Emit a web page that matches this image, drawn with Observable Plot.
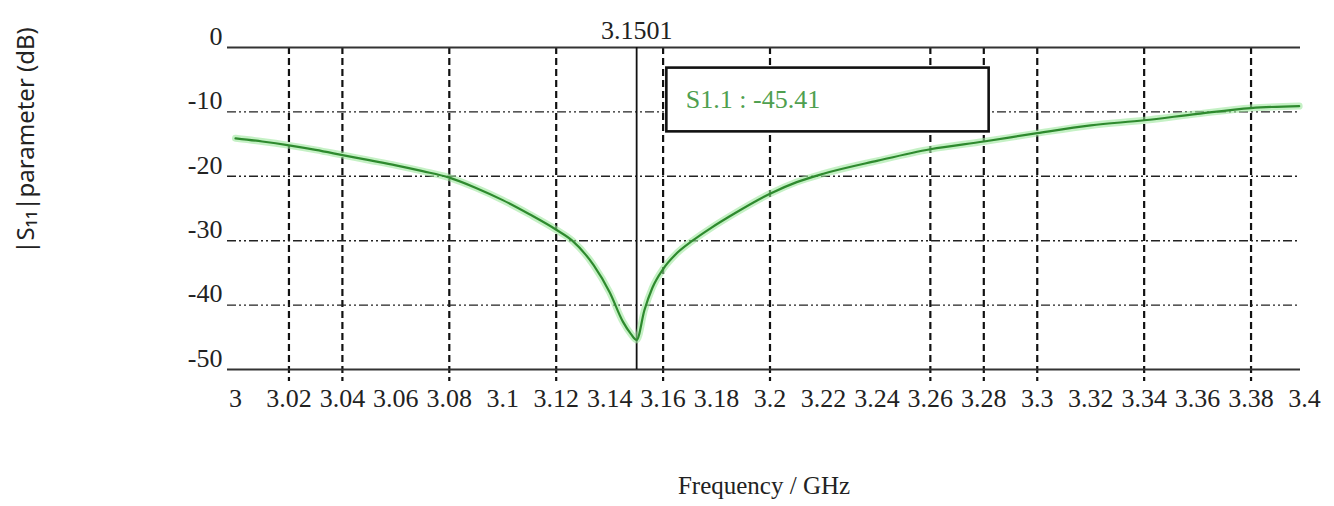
<!DOCTYPE html>
<html>
<head>
<meta charset="utf-8">
<script src="https://cdn.jsdelivr.net/npm/d3@7"></script>
<script src="https://cdn.jsdelivr.net/npm/@observablehq/plot@0.6"></script>
<style>
  html, body { margin: 0; padding: 0; background: #fff; }
  #chart { width: 1334px; height: 506px; }
</style>
</head>
<body>
<div id="chart"></div>
<script>
// Frequency (GHz) and |S11| (dB)
const freq = [3.000, 3.010, 3.020, 3.030, 3.040, 3.050, 3.060, 3.070, 3.080, 3.090,
              3.100, 3.110, 3.120, 3.126, 3.134, 3.140, 3.145, 3.148, 3.1501, 3.153,
              3.156, 3.160, 3.165, 3.171, 3.178, 3.187, 3.200, 3.210, 3.220, 3.240,
              3.260, 3.280, 3.300, 3.320, 3.340, 3.360, 3.380, 3.398];
const s11 = [-14.1, -14.6, -15.2, -15.9, -16.7, -17.5, -18.3, -19.2, -20.2, -21.8,
             -23.7, -25.9, -28.3, -30.0, -33.8, -38.0, -42.6, -44.5, -45.41, -40.8,
             -37.3, -34.4, -32.0, -30.0, -28.0, -25.7, -22.7, -20.9, -19.6, -17.6,
             -15.8, -14.6, -13.3, -12.1, -11.3, -10.3, -9.4, -9.1];

// Axis ticks
const xTickValues = [3, 3.02, 3.04, 3.06, 3.08, 3.1, 3.12, 3.14, 3.16, 3.18, 3.2,
                     3.22, 3.24, 3.26, 3.28, 3.3, 3.32, 3.34, 3.36, 3.38, 3.4];
const xTickLabels = ["3", "3.02", "3.04", "3.06", "3.08", "3.1", "3.12", "3.14", "3.16", "3.18", "3.2",
                     "3.22", "3.24", "3.26", "3.28", "3.3", "3.32", "3.34", "3.36", "3.38", "3.4"];
const yTickValues = [0, -10, -20, -30, -40, -50];
const yTickLabels = ["0", "-10", "-20", "-30", "-40", "-50"];

// Grid lines as they appear in the reference
const gridX = [3.02, 3.04, 3.08, 3.12, 3.16, 3.2, 3.26, 3.28, 3.3, 3.34, 3.38];
const gridY = [-10, -20, -30, -40];
const frameY = [0, -50];

// Marker annotation
const markerFreq = [3.1501];
const markerLabel = ["3.1501"];
const markerText = ["S1.1 : -45.41"];
const boxX = [3.1614, 3.282];
const boxY = [-3.2, -13.1];

const xTitle = "Frequency / GHz";
const yTitle = "|S\u2081\u2081|parameter (dB)";

const data = freq.map((f, i) => ({f, s: s11[i]}));

const chart = Plot.plot({
  width: 1334,
  height: 506,
  marginLeft: 227,
  marginRight: 34,
  marginTop: 47,
  marginBottom: 137,
  x: {domain: [3, 3.4], range: [235, 1304]},
  y: {domain: [-50, 0]},
  style: {fontFamily: "Liberation Serif", background: "white", color: "#222"},
  marks: [
    Plot.ruleX(gridX, {stroke: "#111", strokeWidth: 2.2, strokeDasharray: "7,4", insetBottom: -12}),
    Plot.ruleY(gridY, {stroke: "#222", strokeWidth: 1.4, strokeDasharray: "9,3,2,3,2,3"}),
    Plot.ruleY(frameY, {stroke: "#333", strokeWidth: 2.2}),
    Plot.ruleX(markerFreq, {stroke: "#111", strokeWidth: 1.8}),
    Plot.line(data, {x: "f", y: "s", curve: "monotone-x", stroke: "#9fe89f", strokeWidth: 7, strokeOpacity: 0.6}),
    Plot.line(data, {x: "f", y: "s", curve: "monotone-x", stroke: "#2e8a2e", strokeWidth: 2.2}),
    Plot.rect([0], {x1: () => boxX[0], x2: () => boxX[1], y1: () => boxY[0], y2: () => boxY[1],
                    fill: "white", stroke: "#111", strokeWidth: 2.6}),
    Plot.text(markerText, {x: () => boxX[0], y: () => (boxY[0] + boxY[1]) / 2, dx: 19,
                           textAnchor: "start", fill: "#4f9f4f", fontSize: 26}),
    Plot.text(markerFreq, {x: d => d, text: (d, i) => markerLabel[i], frameAnchor: "top",
                           lineAnchor: "middle", dy: -17, fontSize: 26, fill: "#222"}),
    Plot.axisX(xTickValues, {tickSize: 0, tickPadding: 19, fontSize: 26, label: null,
                             tickFormat: d => xTickLabels[xTickValues.indexOf(d)]}),
    Plot.axisY(yTickValues, {tickSize: 0, tickPadding: 5, dy: -11, fontSize: 26, label: null,
                             tickFormat: d => yTickLabels[yTickValues.indexOf(d)]}),
    Plot.text([xTitle], {frameAnchor: "bottom", lineAnchor: "middle", dy: 116, fontSize: 25, fill: "#222"}),
    Plot.text([yTitle], {frameAnchor: "top-left", textAnchor: "middle", lineAnchor: "middle",
                         dx: -201, dy: 93, rotate: -90, fontFamily: "Noto Sans", fontSize: 24, fill: "#222"})
  ]
});
document.getElementById("chart").appendChild(chart);
</script>
</body>
</html>
